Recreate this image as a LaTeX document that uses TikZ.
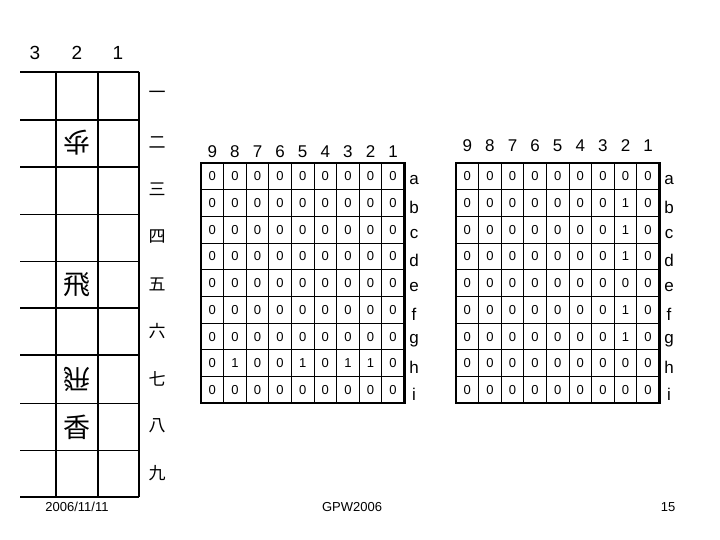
\documentclass[tikz,border=0pt]{standalone}
\usepackage{fontspec}
\setmainfont{Liberation Sans}
\newfontfamily\cjk{Noto Sans CJK JP}
\begin{document}
\begin{tikzpicture}[x=1pt,y=-1pt,
  thick line/.style={line width=2.2pt},
  thin line/.style={line width=1pt},
  lbl/.style={font=\fontsize{17}{17}\selectfont},
  cell/.style={font=\fontsize{13}{13}\selectfont},
  piece/.style={font=\cjk\fontsize{27}{27}\selectfont},
  kan/.style={font=\cjk\fontsize{17}{17}\selectfont}]
\useasboundingbox (0,0) rectangle (720,540);
% left board
\foreach \y in {71.7,120,166.7,308.3,355,496.7} \draw[thick line] (20,\y) -- (139,\y);
\foreach \y in {215,261.7,403,450} \draw[thin line] (20,\y) -- (139,\y);
\draw[thick line] (139,71.7) -- (139,496.7);
\draw[line width=1.6pt] (56,71.7) -- (56,496.7);
\draw[line width=1.6pt] (98,71.7) -- (98,496.7);
\foreach \t/\x in {3/35,2/77,1/118} \node[font=\fontsize{19}{19}\selectfont] (c\t) at (\x,53) {\t};
\foreach \k [count=\i] in {一,二,三,四,五,六,七,八,九}
  \node[kan] (k\i) at (157,{71.7+47.2*(\i-0.5)}) {\k};
\node[piece,rotate=180] (p1) at (77,143) {歩};
\node[piece] (p2) at (77,285) {飛};
\node[piece,rotate=180] (p3) at (77,379) {飛};
\node[piece] (p4) at (77,427) {香};
% grids
\foreach \gx/\ny/\nm in {201/152/A,456/146/B}{
  \foreach \j in {1,...,8} \draw[thin line] ({\gx+22.6*\j},163) -- ({\gx+22.6*\j},403);
  \foreach \i in {1,...,8} \draw[thin line] (\gx,{163+26.7*\i}) -- ({\gx+203.4},{163+26.7*\i});
  \draw[line width=2.4pt] (\gx,163) rectangle ({\gx+203.4},403);
  \foreach \n [count=\j] in {9,8,7,6,5,4,3,2,1}
    \node[lbl] (n\nm\j) at ({\gx+22.6*(\j-0.5)},\ny) {\n};
  \foreach \r [count=\i] in {a,b,c,d,e,f,g,h,i}
    \node[lbl] (r\nm\i) at ({\gx+213},{163+26.7*(\i-0.5)+4}) {\r};
}
\foreach \vals [count=\i] in {{0,0,0,0,0,0,0,0,0},{0,0,0,0,0,0,0,0,0},{0,0,0,0,0,0,0,0,0},{0,0,0,0,0,0,0,0,0},{0,0,0,0,0,0,0,0,0},{0,0,0,0,0,0,0,0,0},{0,0,0,0,0,0,0,0,0},{0,1,0,0,1,0,1,1,0},{0,0,0,0,0,0,0,0,0}}
  \foreach \v [count=\j] in \vals
    \node[cell] (vA\i-\j) at ({201+22.6*(\j-0.5)},{163+26.7*(\i-0.5)}) {\v};
\foreach \vals [count=\i] in {{0,0,0,0,0,0,0,0,0},{0,0,0,0,0,0,0,1,0},{0,0,0,0,0,0,0,1,0},{0,0,0,0,0,0,0,1,0},{0,0,0,0,0,0,0,0,0},{0,0,0,0,0,0,0,1,0},{0,0,0,0,0,0,0,1,0},{0,0,0,0,0,0,0,0,0},{0,0,0,0,0,0,0,0,0}}
  \foreach \v [count=\j] in \vals
    \node[cell] (vB\i-\j) at ({456+22.6*(\j-0.5)},{163+26.7*(\i-0.5)}) {\v};
\node[font=\fontsize{13}{13}\selectfont] (date) at (77,507) {2006/11/11};
\node[font=\fontsize{13}{13}\selectfont] (conf) at (352,507) {GPW2006};
\node[font=\fontsize{13}{13}\selectfont] (page) at (668,507) {15};
\end{tikzpicture}
\end{document}
